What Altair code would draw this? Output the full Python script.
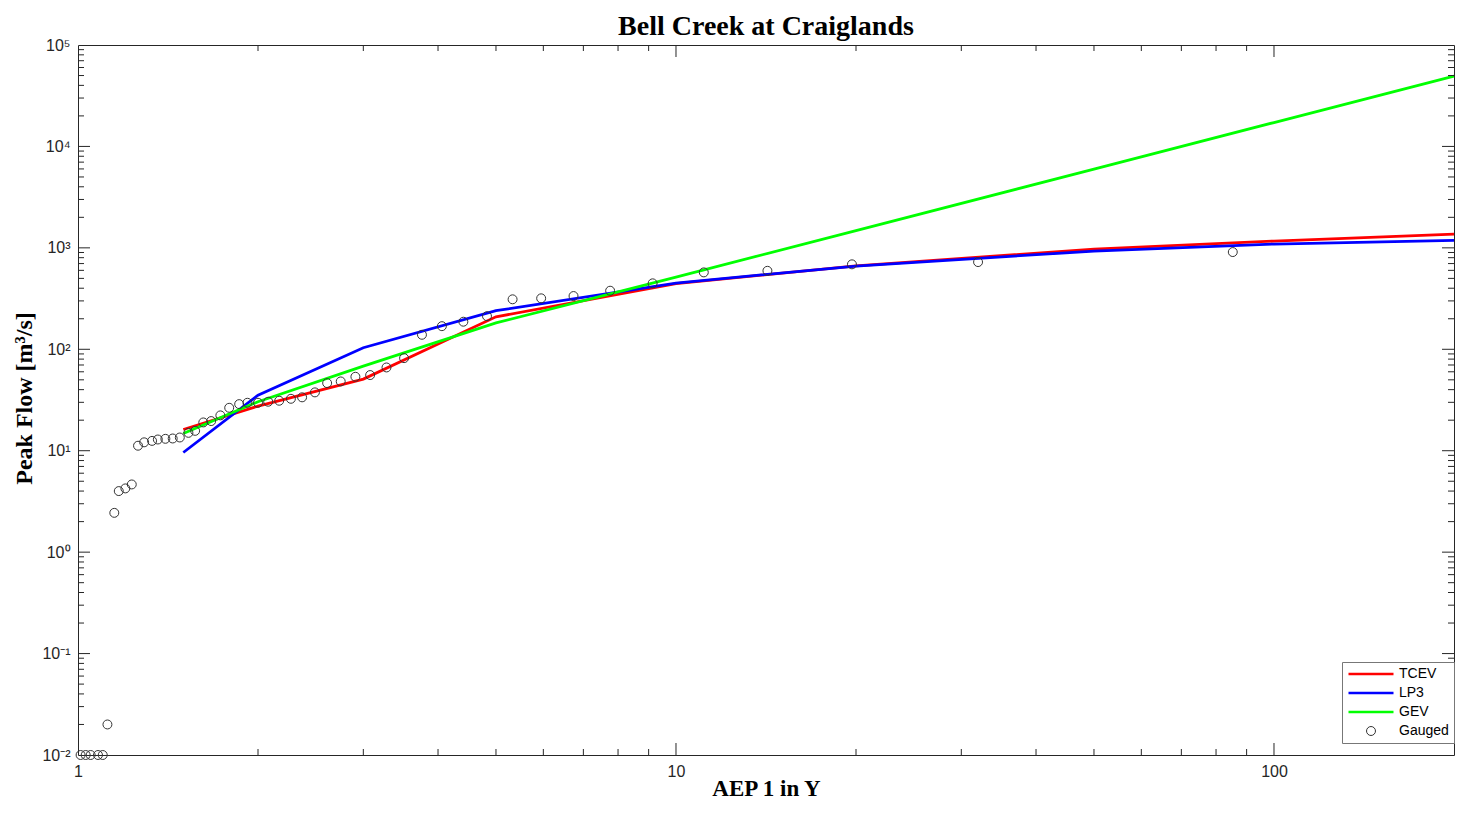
import altair as alt
import pandas as pd

# ---------------- text ----------------
title_text = "Bell Creek at Craiglands"
x_title = "AEP 1 in Y"
y_title = "Peak Flow [m³/s]"

# ---------------- series ----------------
series_names = ["TCEV", "LP3", "GEV", "Gauged"]
series_colors = ["#ff0000", "#0000ff", "#00ff00", "#333333"]
legend_shapes = ["stroke", "stroke", "stroke", "circle"]
legend_sizes = [2025, 2025, 2025, 80]
legend_widths = [2.5, 2.5, 2.5, 1]

aep = [1.5, 2, 3, 5, 10, 20, 50, 100, 200]
tcev = [16.2, 27.5, 50.8, 209, 445, 665, 973, 1167, 1368]
lp3 = [9.6, 35.3, 103.5, 240, 450, 662, 930, 1090, 1186]
gev = [14.8, 30.4, 68.3, 182, 515, 1480, 5980, 17200, 49400]

gauged_aep = [85.33, 32.0, 19.69, 14.22, 11.13, 9.14, 7.76, 6.74, 5.95, 5.33,
              4.83, 4.41, 4.06, 3.76, 3.51, 3.28, 3.08, 2.91, 2.75, 2.61,
              2.49, 2.37, 2.27, 2.17, 2.08, 2.00, 1.92, 1.86, 1.79, 1.73,
              1.67, 1.62, 1.57, 1.53, 1.48, 1.44, 1.40, 1.36, 1.33, 1.29,
              1.26, 1.23, 1.20, 1.17, 1.15, 1.12, 1.10, 1.08, 1.05, 1.03, 1.01]
gauged_flow = [909, 724, 688, 594, 573, 447, 378, 335, 318, 311,
               212, 187, 169, 139, 81.8, 66.2, 55.7, 53.6, 48.2, 46.4,
               37.6, 33.6, 32.5, 31.1, 30.4, 29.7, 29.7, 28.8, 26.5, 22.3,
               19.6, 19.0, 15.7, 15.0, 13.5, 13.2, 13.1, 12.9, 12.5, 12.1,
               11.2, 4.65, 4.25, 4.0, 2.44, 0.02, 0.01, 0.01, 0.01, 0.01, 0.01]

# ---------------- ticks ----------------
x_label_values = [1, 10, 100]
x_label_text = ["1", "10", "100"]
y_label_values = [0.01, 0.1, 1, 10, 100, 1000, 10000, 100000]
y_label_text = ["10⁻²", "10⁻¹", "10⁰", "10¹", "10²", "10³", "10⁴", "10⁵"]

x_major_ticks = [10, 100]
x_minor_ticks = [2, 3, 4, 5, 6, 7, 8, 9, 20, 30, 40, 50, 60, 70, 80, 90]
y_major_ticks = [0.1, 1, 10, 100, 1000, 10000]
y_minor_ticks = [m * 10.0 ** e for e in range(-2, 5) for m in range(2, 10)]

# ---------------- layout ----------------
W, H = 1376, 710
MAJ, MIN = 12, 6
frame = "#262626"

xs = alt.Scale(type="log", domain=[1, 200], nice=False)
ys = alt.Scale(type="log", domain=[0.01, 100000], nice=False)

x_lab_expr = "[" + ",".join("'%s'" % t for t in x_label_text) + "][round(log(datum.value)/LN10)]"
y_lab_expr = "[" + ",".join("'%s'" % t for t in y_label_text) + "][round(log(datum.value)/LN10)+2]"

x_axis = alt.Axis(values=x_label_values, labelExpr=x_lab_expr, ticks=False, domain=False,
                  grid=False, labelFont="Liberation Sans", labelFontSize=16,
                  labelColor=frame, labelPadding=8, labelFlush=False,
                  title=x_title, titleFont="Liberation Serif", titleFontWeight="bold",
                  titleFontSize=23, titleColor="#000000", titleX=W / 2, titleY=33,
                  titleBaseline="middle", titleAlign="center")
y_axis = alt.Axis(values=y_label_values, labelExpr=y_lab_expr, ticks=False, domain=False,
                  grid=False, labelFont="Liberation Sans", labelFontSize=16,
                  labelColor=frame, labelPadding=8,
                  title=y_title, titleFont="Liberation Serif", titleFontWeight="bold",
                  titleFontSize=24, titleColor="#000000", titleAngle=270,
                  titleX=-54, titleY=353, titleBaseline="middle", titleAlign="center")

legend = alt.Legend(
    title=None, orient="none", legendX=1264, legendY=617,
    symbolType="stroke", symbolSize=2025, symbolStrokeWidth=2.5,
    labelFont="Liberation Sans", labelFontSize=14, labelColor="#000000",
    labelOffset=4, strokeColor="#777777", fillColor="#ffffff",
    padding=5, rowPadding=5, clipHeight=14,
)
color_enc = alt.Color("series:N", scale=alt.Scale(domain=series_names, range=series_colors),
                      legend=legend)

rows = []
for name, vals in [("TCEV", tcev), ("LP3", lp3), ("GEV", gev)]:
    for a, v in zip(aep, vals):
        rows.append({"series": name, "aep": a, "flow": v})
lines_df = pd.DataFrame(rows)
gauged_df = pd.DataFrame({"series": "Gauged", "aep": gauged_aep, "flow": gauged_flow})

x_enc = alt.X("aep:Q", scale=xs, axis=x_axis)
y_enc = alt.Y("flow:Q", scale=ys, axis=y_axis)

layers = []
for name in ["TCEV", "LP3", "GEV"]:
    layers.append(
        alt.Chart(lines_df).transform_filter(alt.datum.series == name)
        .mark_line(strokeWidth=2.8)
        .encode(x=x_enc, y=y_enc, color=color_enc)
    )
layers.append(
    alt.Chart(gauged_df).mark_point(filled=False, opacity=1)
    .encode(x=x_enc, y=y_enc,
            color=color_enc,
            shape=alt.Shape("series:N", scale=alt.Scale(domain=series_names, range=legend_shapes),
                            legend=legend),
            size=alt.Size("series:N", scale=alt.Scale(type="ordinal", domain=series_names,
                                                      range=legend_sizes), legend=legend),
            strokeWidth=alt.StrokeWidth("series:N",
                                        scale=alt.Scale(type="ordinal", domain=series_names,
                                                        range=legend_widths),
                                        legend=legend))
)


def xticks(vals, y0, y1):
    return alt.Chart(pd.DataFrame({"aep": vals})).mark_rule(color=frame, strokeWidth=1).encode(
        x=x_enc, y=alt.value(y0), y2=alt.value(y1))


def yticks(vals, x0, x1):
    return alt.Chart(pd.DataFrame({"flow": vals})).mark_rule(color=frame, strokeWidth=1).encode(
        y=y_enc, x=alt.value(x0), x2=alt.value(x1))


tick_layers = [
    xticks(x_major_ticks, H, H - MAJ), xticks(x_minor_ticks, H, H - MIN),
    xticks(x_major_ticks, 0, MAJ), xticks(x_minor_ticks, 0, MIN),
    yticks(y_major_ticks, 0, MAJ), yticks(y_minor_ticks, 0, MIN),
    yticks(y_major_ticks, W, W - MAJ), yticks(y_minor_ticks, W, W - MIN),
]

chart = alt.layer(*(layers + tick_layers)).properties(
    width=W, height=H,
    title=alt.Title(title_text, font="Liberation Serif", fontSize=28, fontWeight="bold",
                    color="#000000", anchor="middle", offset=6, dy=10),
    autosize=alt.AutoSizeParams(type="none"),
    padding={"left": 70, "top": 37, "right": 2, "bottom": 45},
    background="#ffffff",
).configure_view(stroke=frame, strokeWidth=1)

chart.save("out.html", embed_options={"renderer": "svg", "actions": False})
